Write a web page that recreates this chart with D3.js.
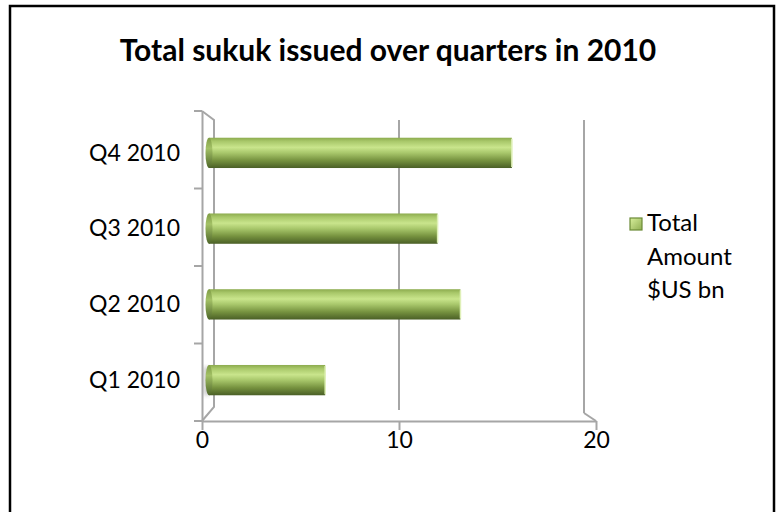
<html>
  <head>
    <meta charset="utf-8" />
    <script src="https://d3js.org/d3.v7.min.js"></script>
    <style>
      body { margin: 0; background: #fff; }
      text { font-family: Lato, "Open Sans", sans-serif; fill: #000; }
    </style>
  </head>
  <body>
    <svg id="chart" width="776" height="512"></svg>
    <script>
      // data
      var categories = ["Q1 2010", "Q2 2010", "Q3 2010", "Q4 2010"];
      var values = [6.1, 13.2, 12.0, 15.9];
      var xTicks = [0, 10, 20];
      var seriesName = ["Total", "Amount", "$US bn"];
      var title = "Total sukuk issued over quarters in 2010";

      var svg = d3.select("#chart");
      var grey = "#a6a6a6";

      // outer border
      svg.append("rect")
        .attr("x", 10).attr("y", 6)
        .attr("width", 764).attr("height", 520)
        .attr("fill", "none").attr("stroke", "#000").attr("stroke-width", 2.5);

      svg.append("text")
        .attr("x", 388).attr("y", 61)
        .attr("text-anchor", "middle")
        .style("font-weight", "bold").style("font-size", "30px")
        .text(title);

      // front and back scales for the 3d frame
      var xFront = d3.scaleLinear().domain([0, 20]).range([202, 596]);
      var xBack = d3.scaleLinear().domain([0, 20]).range([214, 584]);
      var xBar = d3.scaleLinear().domain([0, 20]).range([209, 590]);

      var order = categories.slice().reverse(); // Q4 on top
      var yFront = d3.scaleBand().domain(order).range([111, 421]);
      var yBar = d3.scaleBand().domain(order).range([115, 418]).paddingInner(0.6).paddingOuter(0.3);

      var frame = svg.append("g")
        .attr("fill", "none").attr("stroke", grey).attr("stroke-width", 2);

      // back gridlines
      xTicks.slice(1).forEach(function (t) {
        frame.append("line")
          .attr("x1", xBack(t)).attr("x2", xBack(t))
          .attr("y1", 120).attr("y2", t == 20 ? 413 : 410);
      });
      // right bottom corner
      frame.append("path").attr("d",
        "M" + xBack(20) + ",413L" + xFront(20) + ",421");

      // left wall
      frame.append("path").attr("d",
        "M" + xFront(0) + ",111L" + xBack(0) + ",120L" + xBack(0) + ",407L" + xFront(0) + ",421");

      // y axis (front edge) with category ticks
      var yAxisG = svg.append("g")
        .attr("transform", "translate(" + xFront(0) + ",0)")
        .call(d3.axisLeft(yFront).tickValues([]).tickSizeOuter(0));
      yAxisG.select(".domain").attr("stroke", grey).attr("stroke-width", 2);
      var bounds = [111].concat(order.map(function (d) { return yFront(d) + yFront.bandwidth(); }));
      bounds.forEach(function (b) {
        yAxisG.append("line").attr("x1", -8).attr("x2", 0)
          .attr("y1", b).attr("y2", b)
          .attr("stroke", grey).attr("stroke-width", 2);
      });
      order.forEach(function (c) {
        svg.append("text")
          .attr("x", 180)
          .attr("y", yBar(c) + yBar.bandwidth() / 2 + 2)
          .attr("text-anchor", "end")
          .attr("dominant-baseline", "middle")
          .style("font-size", "23px")
          .text(c);
      });

      // x axis (front bottom edge)
      var xAxisG = svg.append("g")
        .attr("transform", "translate(0,421)")
        .call(d3.axisBottom(xFront).tickValues(xTicks).tickSize(9).tickSizeOuter(0).tickPadding(2));
      xAxisG.select(".domain").attr("stroke", grey).attr("stroke-width", 2);
      xAxisG.selectAll(".tick line").attr("stroke", grey).attr("stroke-width", 2);
      xAxisG.selectAll(".tick text")
        .attr("fill", "#000")
        .style("font-family", "Lato, 'Open Sans', sans-serif")
        .style("font-size", "23px");

      // gradients for cylinder bars
      var defs = svg.append("defs");
      var g = defs.append("linearGradient").attr("id", "cyl")
        .attr("x1", 0).attr("y1", 0).attr("x2", 0).attr("y2", 1);
      [["0%", "#8cab4e"], ["12%", "#a9c86a"], ["32%", "#c9e58c"], ["50%", "#a8c76b"],
       ["75%", "#76923f"], ["100%", "#4a5f26"]].forEach(function (s) {
        g.append("stop").attr("offset", s[0]).attr("stop-color", s[1]);
      });
      var gc = defs.append("linearGradient").attr("id", "cap")
        .attr("x1", 0).attr("y1", 0).attr("x2", 0).attr("y2", 1);
      [["0%", "#7f9c45"], ["35%", "#a3c166"], ["100%", "#4e6629"]].forEach(function (s) {
        gc.append("stop").attr("offset", s[0]).attr("stop-color", s[1]);
      });
      var gl = defs.append("linearGradient").attr("id", "leg")
        .attr("x1", 0).attr("y1", 0).attr("x2", 1).attr("y2", 1);
      gl.append("stop").attr("offset", "0%").attr("stop-color", "#d8ef9c");
      gl.append("stop").attr("offset", "100%").attr("stop-color", "#8fae52");
      var blur = defs.append("filter").attr("id", "sh");
      blur.append("feGaussianBlur").attr("stdDeviation", 2);

      var data = categories.map(function (c, i) { return { cat: c, val: values[i] }; });

      var bars = svg.append("g").selectAll("g.bar").data(data).join("g").attr("class", "bar");
      bars.filter(function (d) { return d.cat == "Q1 2010"; })
        .append("rect")
        .attr("x", xBar(0) - 5).attr("width", 5)
        .attr("y", function (d) { return yBar(d.cat) + 2; })
        .attr("height", yBar.bandwidth() - 2)
        .attr("fill", "#999").attr("opacity", 0.6).attr("filter", "url(#sh)");
      bars.append("rect")
        .attr("x", xBar(0))
        .attr("y", function (d) { return yBar(d.cat); })
        .attr("width", function (d) { return xBar(d.val) - xBar(0); })
        .attr("height", yBar.bandwidth())
        .attr("fill", "url(#cyl)");
      bars.append("ellipse")
        .attr("cx", xBar(0))
        .attr("cy", function (d) { return yBar(d.cat) + yBar.bandwidth() / 2; })
        .attr("rx", 3.5).attr("ry", yBar.bandwidth() / 2)
        .attr("fill", "url(#cap)");
      bars.append("line")
        .attr("x1", function (d) { return xBar(d.val); })
        .attr("x2", function (d) { return xBar(d.val); })
        .attr("y1", function (d) { return yBar(d.cat) + 1; })
        .attr("y2", function (d) { return yBar(d.cat) + yBar.bandwidth() - 1; })
        .attr("stroke", "#dff0b8").attr("stroke-width", 1.5);

      // legend
      var leg = svg.append("g");
      leg.append("rect")
        .attr("x", 630).attr("y", 218).attr("width", 12).attr("height", 12)
        .attr("fill", "url(#leg)").attr("stroke", "#6b8a36").attr("stroke-width", 1.2);
      seriesName.forEach(function (s, i) {
        leg.append("text")
          .attr("x", 647).attr("y", 225 + i * 33.5)
          .attr("dominant-baseline", "middle")
          .style("font-size", "24px")
          .text(s);
      });
    </script>
  </body>
</html>
